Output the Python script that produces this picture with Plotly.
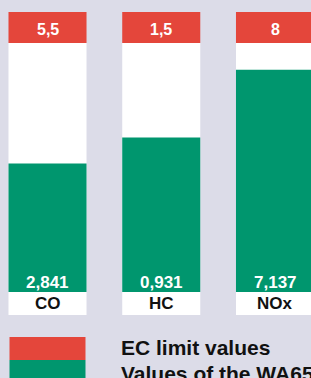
import plotly.graph_objects as go

# --- data ---
pollutants = ["CO", "HC", "NOx"]
ec_limits = [5.5, 1.5, 8.0]
wa65_values = [2.841, 0.931, 7.137]
legend_labels = ["EC limit values", "Values of the WA65 (g/kWh)"]

# --- style ---
BG = "#dcdce8"
RED = "#e4463b"
GREEN = "#00966e"
WHITE = "#ffffff"
FONT = "Liberation Sans, Arial, sans-serif"

HEADER = 0.1245      # height of red header band (normalized units)
LABELBOX = 0.0924    # height of category label box
BAR_W = 0.686

def fmt(v, dec=None):
    s = f"{v:.{dec}f}" if dec is not None else f"{v:g}"
    return s.replace(".", ",")

xs = list(range(len(pollutants)))
ratio = [v / l for v, l in zip(wa65_values, ec_limits)]

fig = go.Figure()
fig.add_trace(go.Bar(x=xs, y=[1] * len(xs), base=0, width=BAR_W,
                     marker=dict(color=WHITE, line_width=0), hoverinfo="skip"))
fig.add_trace(go.Bar(x=xs, y=ratio, base=0, width=BAR_W,
                     marker=dict(color=GREEN, line_width=0), hoverinfo="skip"))
fig.add_trace(go.Bar(x=xs, y=[HEADER] * len(xs), base=1, width=BAR_W,
                     marker=dict(color=RED, line_width=0), hoverinfo="skip"))
fig.add_trace(go.Bar(x=xs, y=[LABELBOX] * len(xs), base=-LABELBOX, width=BAR_W,
                     marker=dict(color=WHITE, line_width=0), hoverinfo="skip"))
# legend swatches
fig.add_trace(go.Bar(x=[0], y=[0.0924], base=[-0.2731], width=0.668,
                     marker=dict(color=RED, line_width=0), hoverinfo="skip"))
fig.add_trace(go.Bar(x=[0], y=[0.2], base=[-0.4731], width=0.668,
                     marker=dict(color=GREEN, line_width=0), hoverinfo="skip"))

ann = []
for x, lim, val, name in zip(xs, ec_limits, wa65_values, pollutants):
    ann.append(dict(x=x, y=1 + HEADER / 2 - 0.008, text=fmt(lim), showarrow=False,
                    font=dict(family=FONT, size=16, color=WHITE, weight="bold"),
                    xanchor="center", yanchor="middle"))
    ann.append(dict(x=x, y=0.038, text=fmt(val, 3), showarrow=False,
                    font=dict(family=FONT, size=17, color=WHITE, weight="bold"),
                    xanchor="center", yanchor="middle"))
    ann.append(dict(x=x, y=-LABELBOX / 2 + 0.002, text=name, showarrow=False,
                    font=dict(family=FONT, size=17, color="#111111", weight="bold"),
                    xanchor="center", yanchor="middle"))

ann.append(dict(x=0.63, y=-0.2245, text=legend_labels[0], showarrow=False,
                font=dict(family=FONT, size=21, color="#111111", weight="bold"),
                xanchor="left", yanchor="middle"))
ann.append(dict(x=0.63, y=-0.3255, text=legend_labels[1], showarrow=False,
                font=dict(family=FONT, size=21, color="#111111", weight="bold"),
                xanchor="left", yanchor="middle"))

fig.update_layout(
    width=311, height=378, autosize=False,
    margin=dict(l=0, r=0, t=0, b=0, pad=0),
    paper_bgcolor=BG, plot_bgcolor=BG,
    barmode="overlay", showlegend=False,
    xaxis=dict(range=[-0.4176, 2.3165], visible=False, fixedrange=True),
    yaxis=dict(range=[-0.3454, 1.1727], visible=False, fixedrange=True),
    annotations=ann,
)

fig.write_html(
    "out.html",
    config={"displayModeBar": False},
    post_script="document.body.style.margin='0';document.body.style.overflow='hidden';"
                "document.body.style.background='" + BG + "';",
)
